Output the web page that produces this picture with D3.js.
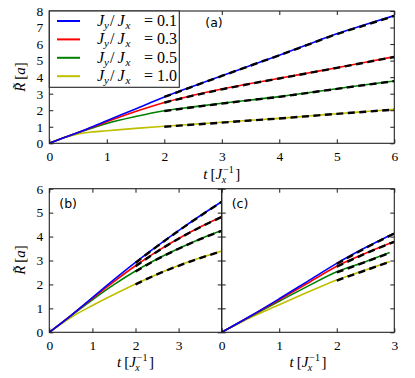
<!DOCTYPE html>
<html>
<head>
<meta charset="utf-8">
<script src="https://cdn.jsdelivr.net/npm/d3@7"></script>
<style>
  body { margin: 0; background: #fff; }
  svg { display: block; }
  .tick text { font-family: "Liberation Serif", serif; font-size: 13.5px; fill: #000; }
  .tick line { stroke: #000; stroke-width: 0.9; }
</style>
</head>
<body>
<svg id="chart" width="415" height="378"></svg>
<script>
// ---- data ----
const labels = ["0.1", "0.3", "0.5", "1.0"];
const colors = ["#0000ff", "#ff0000", "#008000", "#bfbf00"];

// panel (a)
const tA = [0, 0.25, 0.5, 0.75, 1, 1.5, 2, 2.5, 3, 3.5, 4, 4.5, 5, 5.5, 6];
const blueA = [0, 0.33, 0.66, 1.0, 1.36, 2.08, 2.8, 3.45, 4.08, 4.7, 5.33, 5.98, 6.63, 7.18, 7.72];
const redA = [0, 0.33, 0.65, 0.97, 1.3, 1.92, 2.47, 2.9, 3.28, 3.62, 3.93, 4.25, 4.57, 4.9, 5.24];
const greenA = [0, 0.33, 0.64, 0.93, 1.2, 1.62, 1.97, 2.2, 2.42, 2.62, 2.82, 3.06, 3.3, 3.54, 3.77];
const yellowA = [0, 0.34, 0.57, 0.69, 0.76, 0.9, 1.03, 1.15, 1.27, 1.39, 1.51, 1.65, 1.79, 1.92, 2.05];

const tFitA = [2, 2.5, 3, 3.5, 4, 4.5, 5, 5.5, 6];
const blueFitA = [2.8, 3.44, 4.07, 4.7, 5.32, 5.96, 6.6, 7.15, 7.7];
const redFitA = [2.46, 2.88, 3.26, 3.6, 3.92, 4.24, 4.56, 4.89, 5.22];
const greenFitA = [1.95, 2.18, 2.4, 2.61, 2.81, 3.05, 3.29, 3.53, 3.76];
const yellowFitA = [1.0, 1.13, 1.25, 1.38, 1.5, 1.64, 1.78, 1.91, 2.04];

// panel (b)
const tB = [0, 0.5, 1, 1.5, 2, 2.5, 3, 3.5, 4];
const blueB = [0, 0.7, 1.45, 2.2, 2.92, 3.6, 4.25, 4.87, 5.46];
const redB = [0, 0.7, 1.42, 2.12, 2.78, 3.38, 3.92, 4.4, 4.83];
const greenB = [0, 0.69, 1.36, 1.99, 2.56, 3.06, 3.5, 3.9, 4.25];
const yellowB = [0, 0.62, 1.12, 1.58, 2.02, 2.43, 2.79, 3.11, 3.4];

const tFitB = [2, 2.5, 3, 3.5, 4];
const blueFitB = [2.9, 3.59, 4.24, 4.86, 5.45];
const redFitB = [2.76, 3.37, 3.91, 4.39, 4.82];
const greenFitB = [2.54, 3.05, 3.49, 3.89, 4.24];
const yellowFitB = [2.0, 2.42, 2.78, 3.1, 3.39];

// panel (c) : blue and red reach t = 3, green and yellow stop near 2.92
const tCLong = [0, 0.5, 1, 1.5, 2, 2.5, 3];
const tCShort = [0, 0.5, 1, 1.5, 2, 2.5, 2.92];
const blueC = [0, 0.68, 1.4, 2.14, 2.88, 3.54, 4.14];
const redC = [0, 0.67, 1.36, 2.06, 2.76, 3.3, 3.79];
const greenC = [0, 0.66, 1.3, 1.93, 2.53, 2.95, 3.33];
const yellowC = [0, 0.62, 1.15, 1.68, 2.19, 2.6, 2.95];

const tFitCLong = [2, 2.5, 3];
const tFitCShort = [2, 2.5, 2.92];
const blueFitC = [2.86, 3.52, 4.13];
const redFitC = [2.74, 3.29, 3.78];
const greenFitC = [2.5, 2.94, 3.32];
const yellowFitC = [2.16, 2.59, 2.94];

// ---- layout ----
const svg = d3.select("#chart");
const serif = "'Liberation Serif', serif";

const panels = [
  { id: "a", x0: 49.3, x1: 394.3, y0: 11, y1: 143.3, xDom: [0, 6], yDom: [0, 8],
    xTicks: d3.range(0, 7), yTicks: d3.range(0, 9), yLabels: true,
    ts: [tA, tA, tA, tA], series: [blueA, redA, greenA, yellowA],
    tFits: [tFitA, tFitA, tFitA, tFitA], fits: [blueFitA, redFitA, greenFitA, yellowFitA] },
  { id: "b", x0: 49.3, x1: 221.7, y0: 188.7, y1: 332.3, xDom: [0, 4], yDom: [0, 6],
    xTicks: [0, 1, 2, 3], yTicks: d3.range(0, 7), yLabels: true,
    ts: [tB, tB, tB, tB], series: [blueB, redB, greenB, yellowB],
    tFits: [tFitB, tFitB, tFitB, tFitB], fits: [blueFitB, redFitB, greenFitB, yellowFitB] },
  { id: "c", x0: 221.7, x1: 394.3, y0: 188.7, y1: 332.3, xDom: [0, 3], yDom: [0, 6],
    xTicks: [0, 1, 2, 3], yTicks: d3.range(0, 7), yLabels: false,
    ts: [tCLong, tCLong, tCShort, tCShort], series: [blueC, redC, greenC, yellowC],
    tFits: [tFitCLong, tFitCLong, tFitCShort, tFitCShort], fits: [blueFitC, redFitC, greenFitC, yellowFitC] }
];

panels.forEach((p) => {
  const x = d3.scaleLinear().domain(p.xDom).range([p.x0, p.x1]);
  const y = d3.scaleLinear().domain(p.yDom).range([p.y1, p.y0]);

  svg.append("clipPath").attr("id", "clip-" + p.id)
    .append("rect").attr("x", p.x0).attr("y", p.y0)
    .attr("width", p.x1 - p.x0).attr("height", p.y1 - p.y0);

  const g = svg.append("g").attr("clip-path", `url(#clip-${p.id})`);

  const line = d3.line()
    .x((d) => x(d[0])).y((d) => y(d[1]))
    .curve(d3.curveMonotoneX);

  // simulation curves, yellow drawn first so blue sits on top
  for (let i = p.series.length - 1; i >= 0; i--) {
    g.append("path")
      .datum(p.ts[i].map((t, j) => [t, p.series[i][j]]))
      .attr("d", line)
      .attr("fill", "none")
      .attr("stroke", colors[i])
      .attr("stroke-width", 1.6);
  }
  // dashed fits
  p.fits.forEach((f, i) => {
    g.append("path")
      .datum(p.tFits[i].map((t, j) => [t, f[j]]))
      .attr("d", line)
      .attr("fill", "none")
      .attr("stroke", "#000")
      .attr("stroke-width", 2.4)
      .attr("stroke-dasharray", "7,4.5");
  });

  // axes, ticks inward on all sides
  svg.append("g")
    .attr("transform", `translate(0,${p.y1})`)
    .call(d3.axisBottom(x).tickValues(p.xTicks).tickSize(-4).tickSizeOuter(0).tickPadding(8)
      .tickFormat(d3.format("d")))
    .call((s) => s.select(".domain").remove());
  svg.append("g")
    .attr("transform", `translate(0,${p.y0})`)
    .call(d3.axisTop(x).tickValues(p.xTicks).tickSize(-4).tickSizeOuter(0).tickFormat(""))
    .call((s) => s.select(".domain").remove());
  svg.append("g")
    .attr("transform", `translate(${p.x0},0)`)
    .call(d3.axisLeft(y).tickValues(p.yTicks).tickSize(-4).tickSizeOuter(0).tickPadding(6)
      .tickFormat(p.yLabels ? d3.format("d") : ""))
    .call((s) => s.select(".domain").remove());
  svg.append("g")
    .attr("transform", `translate(${p.x1},0)`)
    .call(d3.axisRight(y).tickValues(p.yTicks).tickSize(-4).tickSizeOuter(0).tickFormat(""))
    .call((s) => s.select(".domain").remove());

  svg.append("rect")
    .attr("x", p.x0).attr("y", p.y0)
    .attr("width", p.x1 - p.x0).attr("height", p.y1 - p.y0)
    .attr("fill", "none").attr("stroke", "#222").attr("stroke-width", 1.1);

  // panel tag
  const tagPos = { a: [x(0) + 156, p.y0 + 16], b: [p.x0 + 10, p.y0 + 19], c: [p.x0 + 10, p.y0 + 19] }[p.id];
  svg.append("text")
    .attr("x", tagPos[0]).attr("y", tagPos[1])
    .attr("font-family", "'DejaVu Sans', sans-serif").attr("font-size", 12.5)
    .text(`(${p.id})`);
});

// x label "t [J_x^-1]" : sub and superscript stacked as separate texts
function xLabel(cx, cy) {
  const g = svg.append("g");
  const main = g.append("text").attr("y", cy)
    .attr("font-family", serif).attr("font-size", 15);
  main.append("tspan").attr("font-style", "italic").text("t");
  main.append("tspan").text("\u2009[");
  main.append("tspan").attr("font-style", "italic").text("J");
  const w1 = main.node().getComputedTextLength();
  const sup = g.append("text").attr("y", cy - 6)
    .attr("font-family", serif).attr("font-size", 10).text("\u22121");
  const supW = sup.node().getComputedTextLength();
  const sub = g.append("text").attr("y", cy + 3.5)
    .attr("font-family", serif).attr("font-size", 10).attr("font-style", "italic").text("x");
  const close = g.append("text").attr("y", cy)
    .attr("font-family", serif).attr("font-size", 15).text("]");
  const total = w1 + 1 + supW + 1.5 + close.node().getComputedTextLength();
  const left = cx - total / 2;
  main.attr("x", left);
  sup.attr("x", left + w1 + 1);
  sub.attr("x", left + w1 - 0.5);
  close.attr("x", left + w1 + 1 + supW + 1.5);
}
xLabel(221.8, 179);
xLabel(135.5, 367);
xLabel(308, 367);

// y label "R~ [a]"
function yLabel(cx, cy) {
  const t = svg.append("text")
    .attr("transform", `translate(${cx},${cy}) rotate(-90)`)
    .attr("text-anchor", "middle")
    .attr("font-family", serif).attr("font-size", 15);
  t.append("tspan").attr("font-style", "italic").text("R\u0303");
  t.append("tspan").text("\u2009[");
  t.append("tspan").attr("font-style", "italic").text("a");
  t.append("tspan").text("]");
}
yLabel(25, 77);
yLabel(25, 260);

// legend in panel (a), math pieces placed like the TeX layout
const leg = svg.append("g");
leg.append("rect")
  .attr("x", 49.3).attr("y", 11).attr("width", 130).attr("height", 76.3)
  .attr("fill", "#fff").attr("stroke", "#222").attr("stroke-width", 1.1);
labels.forEach((lab, i) => {
  const ly = 21 + i * 18.4;
  const base = ly + 5;
  leg.append("line")
    .attr("x1", 57).attr("x2", 80).attr("y1", ly).attr("y2", ly)
    .attr("stroke", colors[i]).attr("stroke-width", 2);
  const t = leg.append("text").attr("y", base)
    .attr("font-family", serif).attr("font-size", 16);
  t.append("tspan").attr("x", 97).attr("font-style", "italic").text("J");
  t.append("tspan").attr("x", 104).attr("y", base + 3).attr("font-style", "italic").attr("font-size", 11).text("y");
  t.append("tspan").attr("x", 110).attr("y", base).text("/");
  t.append("tspan").attr("x", 117.5).attr("font-style", "italic").text("J");
  t.append("tspan").attr("x", 125.5).attr("y", base + 3).attr("font-style", "italic").attr("font-size", 11).text("x");
  t.append("tspan").attr("x", 144).attr("y", base).text("=");
  t.append("tspan").attr("x", 157).text(lab);
});
</script>
</body>
</html>
